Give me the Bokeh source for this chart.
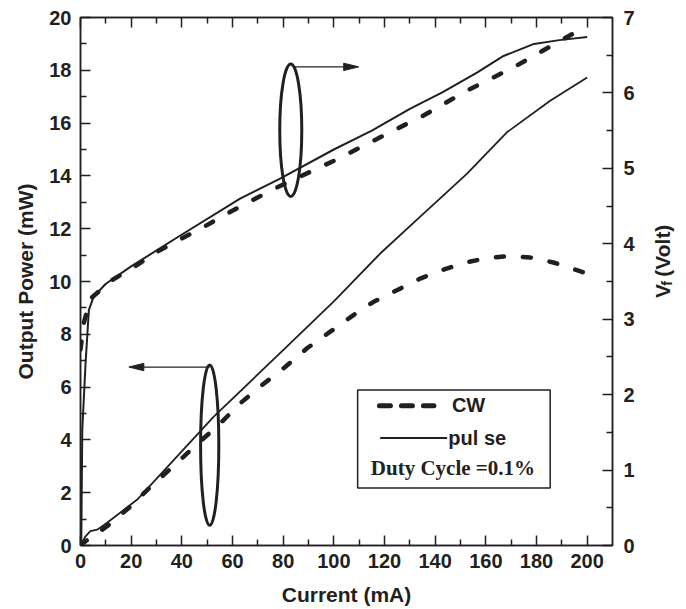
import math
from bokeh.plotting import figure
from bokeh.layouts import row
from bokeh.models import Range1d, LinearAxis, FixedTicker, CustomJSTickFormatter, Label
from bokeh.embed import file_html
from bokeh.resources import INLINE

# ---------------- data ----------------
# forward voltage, pulsed (solid), right axis
current_vf_pulse = [0.3, 0.7, 2.0, 3.3, 5.2, 10, 20, 39.4, 63, 78.6, 100, 115, 130, 143,
                    156.5, 167, 179, 189, 200]
vf_pulse = [0.0, 1.53, 2.42, 3.12, 3.30, 3.47, 3.70, 4.11, 4.60, 4.86, 5.25, 5.50, 5.79, 6.01,
            6.27, 6.49, 6.65, 6.70, 6.74]
# forward voltage, CW (dashed), right axis
current_vf_cw = [0, 1.3, 3.9, 12.5, 21, 30, 39.4, 48, 56.8, 65, 79, 100, 128.8, 135.4,
                 152.5, 171, 189.3, 200]
vf_cw = [2.60, 2.95, 3.27, 3.52, 3.69, 3.89, 4.06, 4.21, 4.38, 4.53, 4.77, 5.10, 5.59, 5.70,
         6.03, 6.34, 6.69, 6.89]
# output power, pulsed (solid), left axis
current_p_pulse = [0, 2, 3.9, 6.6, 10.5, 22.4, 35.5, 52.6, 80, 100, 118.3, 135.4, 152.5,
                   168.3, 185.4, 200]
power_pulse = [0.0, 0.35, 0.54, 0.60, 0.86, 1.74, 3.10, 4.88, 7.40, 9.25, 11.06, 12.57, 14.08,
               15.65, 16.85, 17.73]
# output power, CW (dashed), left axis
current_p_cw = [0, 2, 10.5, 19.5, 27.6, 36.8, 45.8, 54.6, 63.1, 71.7, 80.9, 89.4, 98.6, 107.2,
                115.7, 124.9, 134.1, 142.7, 151.2, 160.4, 169, 177.5, 186.7, 195.9, 200]
power_cw = [0.0, 0.16, 0.73, 1.46, 2.22, 3.02, 3.82, 4.57, 5.39, 6.08, 6.77, 7.47, 8.10, 8.69,
            9.23, 9.67, 10.11, 10.43, 10.70, 10.89, 10.96, 10.91, 10.72, 10.43, 10.30]

x_ticks = list(range(0, 201, 20))
x_minor = list(range(10, 200, 20))
p_ticks = list(range(0, 21, 2))
p_minor = list(range(1, 20, 2))
v_ticks = list(range(0, 8))
v_minor = [i + 0.5 for i in range(7)]

# ---------------- styling ----------------
INK = "#231f20"
SANS = "Liberation Sans"
SERIF = "Liberation Serif"
H = 608

p = figure(width=648, height=H, x_range=Range1d(0, 210), y_range=Range1d(0, 20),
           output_backend="svg", toolbar_location=None,
           min_border_left=80, min_border_right=36, min_border_top=17, min_border_bottom=62)
p.extra_y_ranges = {"vf": Range1d(0, 7)}
p.xgrid.visible = False
p.ygrid.visible = False
p.outline_line_color = INK
p.outline_line_width = 1.5
p.background_fill_color = "white"
p.border_fill_color = "white"


def style_axis(ax, standoff):
    ax.axis_line_color = INK
    ax.axis_line_width = 1.5
    ax.major_tick_line_color = INK
    ax.minor_tick_line_color = INK
    ax.major_tick_line_width = 1.5
    ax.minor_tick_line_width = 1.5
    ax.major_tick_in = 10
    ax.major_tick_out = 0
    ax.minor_tick_in = 6
    ax.minor_tick_out = 0
    ax.major_label_text_font = SANS
    ax.major_label_text_font_style = "bold"
    ax.major_label_text_font_size = "20px"
    ax.major_label_text_color = INK
    ax.major_label_standoff = standoff


def style_title(ax, standoff):
    ax.axis_label_text_font = SANS
    ax.axis_label_text_font_style = "bold"
    ax.axis_label_text_font_size = "21px"
    ax.axis_label_text_color = INK
    ax.axis_label_standoff = standoff


xax = p.xaxis[0]
xax.ticker = FixedTicker(ticks=x_ticks, minor_ticks=x_minor)
style_axis(xax, 8)
xax.axis_label = "Current (mA)"
style_title(xax, 12)

yax = p.yaxis[0]
yax.ticker = FixedTicker(ticks=p_ticks, minor_ticks=p_minor)
style_axis(yax, 9)
yax.axis_label = "Output Power (mW)"
style_title(yax, 9)

rax = LinearAxis(y_range_name="vf", ticker=FixedTicker(ticks=v_ticks, minor_ticks=v_minor))
style_axis(rax, 11)
p.add_layout(rax, "right")

tax = LinearAxis(ticker=FixedTicker(ticks=x_ticks, minor_ticks=x_minor),
                 formatter=CustomJSTickFormatter(code="return ''"))
style_axis(tax, 0)
tax.major_label_text_font_size = "1px"
p.add_layout(tax, "above")

# ---------------- curves ----------------
p.line(current_vf_pulse, vf_pulse, y_range_name="vf", line_color=INK, line_width=2,
       line_join="round")
p.line(current_vf_cw, vf_cw, y_range_name="vf", line_color=INK, line_width=4.5,
       line_dash="8 19", line_cap="round", line_join="round")
p.line(current_p_pulse, power_pulse, line_color=INK, line_width=1.8, line_join="round")
p.line(current_p_cw, power_cw, line_color=INK, line_width=4.5,
       line_dash="8 19", line_cap="round", line_join="round")

# ---------------- ellipses and arrows ----------------
ell_x = [83.0, 51.0]
ell_y = [15.73, 3.80]
ell_w = [8.7, 7.2]
ell_h = [5.02, 6.08]
p.ellipse(x=ell_x, y=ell_y, width=ell_w, height=ell_h, fill_color=None,
          line_color=INK, line_width=3)

arrow_start = [(84.1, 18.13), (51.0, 6.76)]
arrow_tip = [(109.8, 18.13), (19.1, 6.76)]
head_len = 5.9     # in mA
head_half = 0.14   # in mW
for (x0, y0), (x1, y1) in zip(arrow_start, arrow_tip):
    d = 1 if x1 > x0 else -1
    p.line([x0, x1 - d * head_len], [y0, y1], line_color=INK, line_width=1.3)
    p.patch([x1, x1 - d * head_len, x1 - d * head_len],
            [y1, y1 + head_half, y1 - head_half], fill_color=INK, line_color=INK,
            line_width=1)

# ---------------- legend box ----------------
p.quad(left=[109.4], right=[185.4], bottom=[2.18], top=[5.89], fill_color="white",
       line_color=INK, line_width=1.5)
p.line([118.0, 139.5], [5.29, 5.29], line_color=INK, line_width=5, line_dash="11 11",
       line_cap="round")
p.line([118.3, 144.7], [4.07, 4.07], line_color=INK, line_width=2)
p.add_layout(Label(x=146.6, y=5.33, text="CW", text_font=SANS, text_font_style="bold",
                   text_font_size="20px", text_color=INK, text_baseline="middle"))
p.add_layout(Label(x=145.2, y=4.08, text="pul se", text_font=SANS, text_font_style="bold",
                   text_font_size="20px", text_color=INK, text_baseline="middle"))
p.add_layout(Label(x=114.6, y=2.94, text="Duty Cycle =0.1%", text_font=SERIF,
                   text_font_style="bold", text_font_size="21px", text_color=INK,
                   text_baseline="middle"))

# ---------------- right-hand title V_f (Volt) in a narrow strip ----------------
W2 = 37
q = figure(width=W2, height=H, x_range=Range1d(0, W2), y_range=Range1d(0, H),
           output_backend="svg", toolbar_location=None, x_axis_type=None, y_axis_type=None,
           min_border=0)
q.xgrid.visible = False
q.ygrid.visible = False
q.outline_line_color = None
q.background_fill_color = "white"
q.border_fill_color = "white"
ang = math.pi / 2
v_base = H - 323   # page y of the start of the title
q.add_layout(Label(x=14, y=v_base, text="V", angle=ang, text_font=SANS,
                   text_font_style="bold", text_font_size="21px", text_color=INK,
                   text_align="left", text_baseline="middle"))
q.add_layout(Label(x=18.5, y=v_base + 14, text="f", angle=ang, text_font=SANS,
                   text_font_style="bold", text_font_size="14px", text_color=INK,
                   text_align="left", text_baseline="middle"))
q.add_layout(Label(x=14, y=v_base + 24.5, text="(Volt)", angle=ang, text_font=SANS,
                   text_font_style="bold", text_font_size="21px", text_color=INK,
                   text_align="left", text_baseline="middle"))

layout = row(p, q)
open("out.html", "w").write(file_html(layout, INLINE))
